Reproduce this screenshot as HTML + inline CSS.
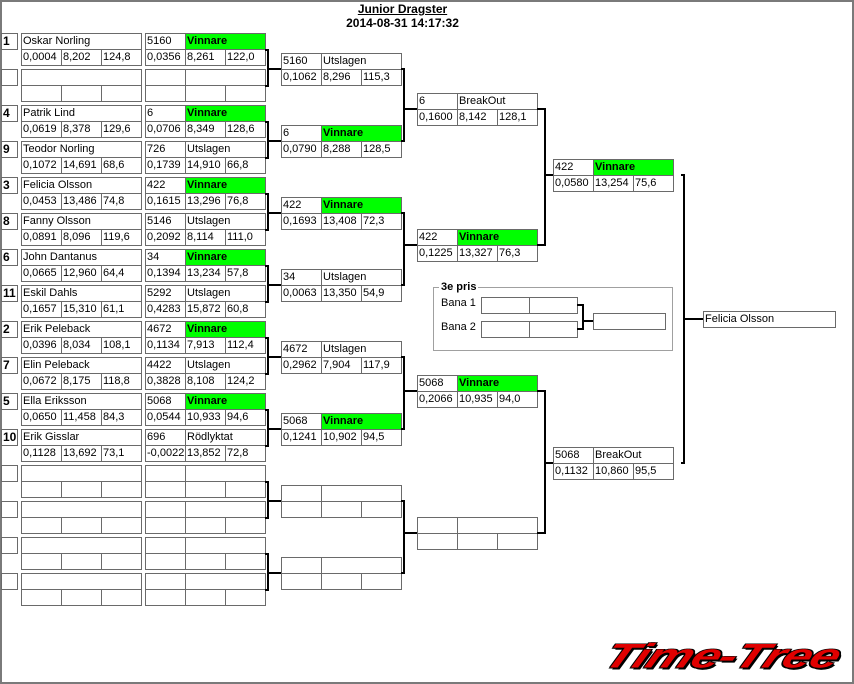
<!DOCTYPE html>
<html><head><meta charset="utf-8">
<style>
html,body{margin:0;padding:0;}
body{width:854px;height:684px;position:relative;overflow:hidden;background:#fff;font-family:"Liberation Sans",Arial,sans-serif;font-size:11px;color:#000;}
.c{position:absolute;box-sizing:border-box;border:1px solid #6a6a6a;background:#fff;line-height:14px;padding-left:1px;white-space:nowrap;overflow:hidden;}
.g{background:#00ff00;font-weight:bold;}
.n{font-weight:bold;font-size:12px;}
.l{position:absolute;background:#000;}
#frame{position:absolute;left:0;top:0;width:854px;height:684px;box-sizing:border-box;border:2px solid #7a7a7a;}
#title{position:absolute;left:300px;top:2px;width:205px;text-align:center;font-weight:bold;font-size:12px;line-height:14px;}
#gb{position:absolute;left:433px;top:287px;width:240px;height:64px;box-sizing:border-box;border:1px solid #a0a0a0;}
.lab{position:absolute;font-size:11px;line-height:14px;}
#logo{position:absolute;left:614px;top:638px;font-family:"Liberation Sans",sans-serif;font-weight:bold;font-style:italic;font-size:38px;color:#e00000;letter-spacing:-1px;transform-origin:0 0;transform:scaleX(1.36) skewX(-18deg) scaleY(0.9);text-shadow:-1px -1px 0 #000,1px -1px 0 #000,-1px 1px 0 #000,1px 1px 0 #000,2px 2px 0 #000;}
</style></head><body>
<div id="frame"></div>
<div id="title"><u>Junior Dragster</u><br>2014-08-31 14:17:32</div>
<div id="root"></div>
<div id="gb"></div>
<div class="lab" style="left:439px;top:280px;background:#fff;font-weight:bold;padding:0 2px;">3e pris</div>
<div class="lab" style="left:441px;top:296px;">Bana 1</div>
<div class="lab" style="left:441px;top:320px;">Bana 2</div>
<div id="logo">Time-Tree</div>
<script>
var R=document.getElementById('root'),h='';
function c(x,y,w,t,g,cls){h+='<div class="c'+(g?' g':'')+(cls?' '+cls:'')+'" style="left:'+x+'px;top:'+y+'px;width:'+w+'px;height:17px;">'+(t||'')+'</div>';}
function l(x,y,w,hh){h+='<div class="l" style="left:'+x+'px;top:'+y+'px;width:'+w+'px;height:'+hh+'px;"></div>';}
function res(x,y,d){d=d||[];c(x,y,41,d[0]);c(x+40,y,81,d[1],d[1]=='Vinnare');c(x,y+16,41,d[2]);c(x+40,y+16,41,d[3]);c(x+80,y+16,41,d[4]);}
var E=[
['1','Oskar Norling','0,0004','8,202','124,8','5160','Vinnare','0,0356','8,261','122,0'],[],
['4','Patrik Lind','0,0619','8,378','129,6','6','Vinnare','0,0706','8,349','128,6'],
['9','Teodor Norling','0,1072','14,691','68,6','726','Utslagen','0,1739','14,910','66,8'],
['3','Felicia Olsson','0,0453','13,486','74,8','422','Vinnare','0,1615','13,296','76,8'],
['8','Fanny Olsson','0,0891','8,096','119,6','5146','Utslagen','0,2092','8,114','111,0'],
['6','John Dantanus','0,0665','12,960','64,4','34','Vinnare','0,1394','13,234','57,8'],
['11','Eskil Dahls','0,1657','15,310','61,1','5292','Utslagen','0,4283','15,872','60,8'],
['2','Erik Peleback','0,0396','8,034','108,1','4672','Vinnare','0,1134','7,913','112,4'],
['7','Elin Peleback','0,0672','8,175','118,8','4422','Utslagen','0,3828','8,108','124,2'],
['5','Ella Eriksson','0,0650','11,458','84,3','5068','Vinnare','0,0544','10,933','94,6'],
['10','Erik Gisslar','0,1128','13,692','73,1','696','Rödlyktat','-0,0022','13,852','72,8'],
[],[],[],[]];
for(var i=0;i<16;i++){var y=33+36*i,e=E[i];
 c(1,y,17,e[0],0,'n');c(21,y,121,e[1]);c(21,y+16,41,e[2]);c(61,y+16,41,e[3]);c(101,y+16,41,e[4]);
 res(145,y,[e[5],e[6],e[7],e[8],e[9]]);}
var R2=[['5160','Utslagen','0,1062','8,296','115,3'],['6','Vinnare','0,0790','8,288','128,5'],['422','Vinnare','0,1693','13,408','72,3'],['34','Utslagen','0,0063','13,350','54,9'],['4672','Utslagen','0,2962','7,904','117,9'],['5068','Vinnare','0,1241','10,902','94,5'],[],[]];
var t2=[];for(var k=0;k<8;k++){t2.push(53+72*k);res(281,53+72*k,R2[k]);
 var b=33+72*k;l(267,b+16,2,38);l(265,b+16,3,2);l(265,b+52,3,2);l(267,b+35,14,2);}
var t3=[93,229,375,517],R3=[['6','BreakOut','0,1600','8,142','128,1'],['422','Vinnare','0,1225','13,327','76,3'],['5068','Vinnare','0,2066','10,935','94,0'],[]];
for(var k=0;k<4;k++){res(417,t3[k],R3[k]);var y1=t2[2*k]+16,y2=t2[2*k+1]+16;l(401,y1-1,3,2);l(401,y2-1,3,2);l(403,y1-1,2,y2-y1+2);l(403,t3[k]+15,14,2);}
var t4=[159,447],R4=[['422','Vinnare','0,0580','13,254','75,6'],['5068','BreakOut','0,1132','10,860','95,5']];
for(var k=0;k<2;k++){res(553,t4[k],R4[k]);var y1=t3[2*k]+16,y2=t3[2*k+1]+16;l(537,y1-1,8,2);l(537,y2-1,8,2);l(544,y1-1,2,y2-y1+2);l(544,t4[k]+15,9,2);}
l(681,174,4,2);l(681,462,4,2);l(683,174,2,290);l(683,318,20,2);
h+='<div class="c" style="left:703px;top:311px;width:133px;height:17px;">Felicia Olsson</div>';
c(481,297,49);c(529,297,49);c(481,321,49);c(529,321,49);c(593,313,73);
l(577,304,7,2);l(577,328,7,2);l(582,304,2,26);l(582,320,11,2);
R.innerHTML=h;
</script>
</body></html>
